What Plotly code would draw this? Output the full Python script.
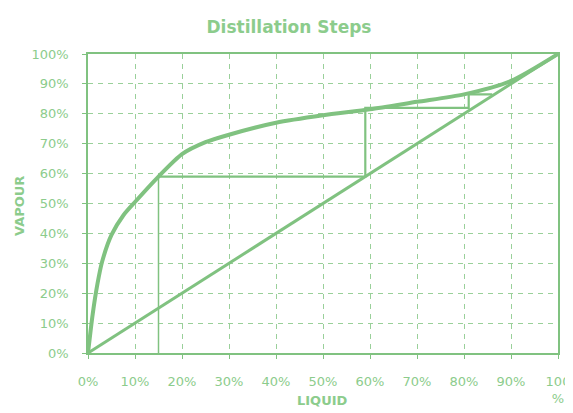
import plotly.graph_objects as go

# Equilibrium curve (liquid % vs vapour %)
liquid = [0, 1, 2, 3, 5, 7.5, 10, 15, 20, 25, 30, 40, 50, 60, 70, 80, 90, 100]
vapour = [0, 13, 23, 30.5, 39.5, 46, 50.5, 59, 66.5, 70.5, 73, 77, 79.5, 81.5, 84, 86.5, 91, 100]

# Diagonal y = x
diag_x = [0, 100]
diag_y = [0, 100]

# Distillation step lines
drop_x = [15, 15]
drop_y = [0, 59]
step_x = [15, 59, 59, 81, 81, 86]
step_y = [59, 59, 82, 82, 86.5, 86.5]

x_tickvals = [0, 10, 20, 30, 40, 50, 60, 70, 80, 90, 100]
x_ticktext = ["0%", "10%", "20%", "30%", "40%", "50%", "60%", "70%", "80%", "90%", "100<br>%"]
y_tickvals = [0, 10, 20, 30, 40, 50, 60, 70, 80, 90, 100]
y_ticktext = ["0%", "10%", "20%", "30%", "40%", "50%", "60%", "70%", "80%", "90%", "100%"]

LINE = "#80c280"
TEXT = "#8ccc8c"
GRID = "#9ad09a"
FONT = "DejaVu Sans, Verdana, sans-serif"

# page has an 8px body offset; size the figure to fit the 573x413 window
OFF = 8
W, H = 573 - OFF, 413 - OFF
L, R, T, B = 88 - OFF, 15, 54 - OFF, 60

fig = go.Figure()
fig.add_trace(go.Scatter(x=diag_x, y=diag_y, mode="lines",
                         line=dict(color=LINE, width=3), hoverinfo="skip"))
fig.add_trace(go.Scatter(x=drop_x, y=drop_y, mode="lines",
                         line=dict(color=LINE, width=1.5), hoverinfo="skip"))
fig.add_trace(go.Scatter(x=step_x, y=step_y, mode="lines",
                         line=dict(color=LINE, width=2.2), hoverinfo="skip"))
fig.add_trace(go.Scatter(x=liquid, y=vapour, mode="lines",
                         line=dict(color=LINE, width=4, shape="spline", smoothing=0.7),
                         hoverinfo="skip"))

axis_common = dict(
    range=[0, 100], automargin=False,
    showgrid=True, gridcolor=GRID, gridwidth=1, griddash="5px,5px",
    showline=True, linecolor=LINE, linewidth=1.5, mirror=True,
    ticks="outside", ticklen=4, tickcolor=LINE, tickwidth=1,
    zeroline=False,
    tickfont=dict(family=FONT, size=13, color=TEXT),
)

fig.update_xaxes(**axis_common, tickvals=x_tickvals, ticktext=x_ticktext,
                 ticklabelstandoff=12)
fig.update_yaxes(**axis_common, tickvals=y_tickvals, ticktext=y_ticktext,
                 ticklabelstandoff=11)

pw = W - L - R
ph = H - T - B
fig.add_annotation(text="<b>LIQUID</b>", xref="paper", yref="paper",
                   x=(322 - OFF - L) / pw, y=-(400 - OFF - (H - B)) / ph,
                   xanchor="center", yanchor="middle", showarrow=False,
                   font=dict(family=FONT, size=13, color=TEXT))
fig.add_annotation(text="<b>VAPOUR</b>", xref="paper", yref="paper",
                   x=-(L - (19 - OFF)) / pw, y=((H - B) - (206 - OFF)) / ph,
                   xanchor="center", yanchor="middle", showarrow=False, textangle=-90,
                   font=dict(family=FONT, size=13, color=TEXT))

fig.update_layout(
    width=W, height=H,
    margin=dict(l=L, r=R, t=T, b=B),
    paper_bgcolor="white", plot_bgcolor="white",
    showlegend=False,
    title=dict(text="<b>Distillation Steps</b>", x=(289 - OFF) / W, xanchor="center",
               y=1 - (27 - OFF) / H, yanchor="middle",
               font=dict(family=FONT, size=17, color=TEXT)),
)

fig.write_html("out.html")
